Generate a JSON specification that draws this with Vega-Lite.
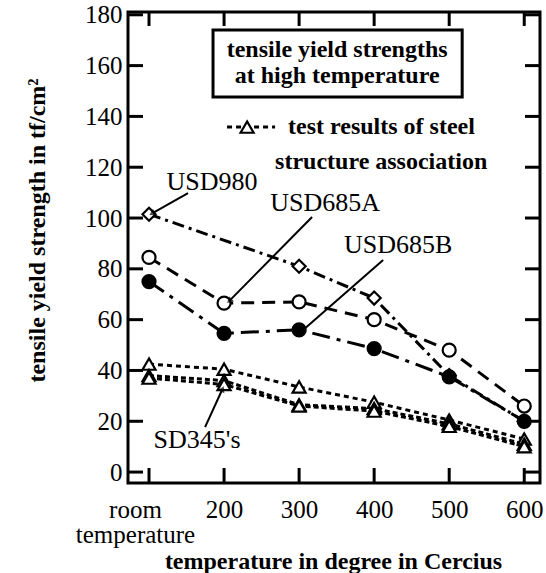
{
  "$schema": "https://vega.github.io/schema/vega-lite/v6.json",
  "autosize": "none",
  "width": 412,
  "height": 471,
  "padding": {"left": 128, "top": 12, "right": 6, "bottom": 90},
  "background": "white",
  "config": {
    "view": {"stroke": "black", "strokeWidth": 3},
    "font": "Liberation Serif",
    "axis": {
      "domain": false, "grid": false, "ticks": false,
      "labelOverlap": false, "labelFont": "Liberation Serif", "labelFontSize": 25, "labelColor": "black",
      "titleFont": "Liberation Serif", "titleFontSize": 24, "titleColor": "black", "titleFontWeight": "bold"
    }
  },
  "datasets": {
    "series": [
      {"series": "USD980", "temp": 100, "strength": 101.5},
      {"series": "USD980", "temp": 300, "strength": 81},
      {"series": "USD980", "temp": 400, "strength": 68.5},
      {"series": "USD980", "temp": 500, "strength": 38},
      {"series": "USD980", "temp": 600, "strength": 20},
      {"series": "USD685A", "temp": 100, "strength": 84.5},
      {"series": "USD685A", "temp": 200, "strength": 66.5},
      {"series": "USD685A", "temp": 300, "strength": 67},
      {"series": "USD685A", "temp": 400, "strength": 60},
      {"series": "USD685A", "temp": 500, "strength": 48},
      {"series": "USD685A", "temp": 600, "strength": 26},
      {"series": "USD685B", "temp": 100, "strength": 75},
      {"series": "USD685B", "temp": 200, "strength": 54.6},
      {"series": "USD685B", "temp": 300, "strength": 56},
      {"series": "USD685B", "temp": 400, "strength": 48.6},
      {"series": "USD685B", "temp": 500, "strength": 37.5},
      {"series": "USD685B", "temp": 600, "strength": 20},
      {"series": "association", "temp": 100, "strength": 42.5},
      {"series": "association", "temp": 200, "strength": 40.5},
      {"series": "association", "temp": 300, "strength": 33.5},
      {"series": "association", "temp": 400, "strength": 27.5},
      {"series": "association", "temp": 500, "strength": 20.5},
      {"series": "association", "temp": 600, "strength": 13},
      {"series": "SD345a", "temp": 100, "strength": 38},
      {"series": "SD345a", "temp": 200, "strength": 36},
      {"series": "SD345a", "temp": 300, "strength": 26.5},
      {"series": "SD345a", "temp": 400, "strength": 25},
      {"series": "SD345a", "temp": 500, "strength": 19},
      {"series": "SD345a", "temp": 600, "strength": 11},
      {"series": "SD345b", "temp": 100, "strength": 37},
      {"series": "SD345b", "temp": 200, "strength": 34.5},
      {"series": "SD345b", "temp": 300, "strength": 26},
      {"series": "SD345b", "temp": 400, "strength": 24},
      {"series": "SD345b", "temp": 500, "strength": 18},
      {"series": "SD345b", "temp": 600, "strength": 10}
    ],
    "xticks": [{"v": 100}, {"v": 200}, {"v": 300}, {"v": 400}, {"v": 500}, {"v": 600}],
    "yticks": [{"v": 0}, {"v": 20}, {"v": 40}, {"v": 60}, {"v": 80}, {"v": 100}, {"v": 120}, {"v": 140}, {"v": 160}, {"v": 180}],
    "labels": [
      {"text": "USD980", "temp": 184, "strength": 114.2},
      {"text": "USD685A", "temp": 334.7, "strength": 105.9},
      {"text": "USD685B", "temp": 432, "strength": 89.4},
      {"text": "SD345's", "temp": 164, "strength": 12.6}
    ],
    "arrows": [
      {"name": "USD980", "x1": 152, "y1": 109.8, "x2": 105.3, "y2": 102},
      {"name": "USD685A", "x1": 317.3, "y1": 100.4, "x2": 208, "y2": 67.7},
      {"name": "USD685B", "x1": 412, "y1": 83.5, "x2": 305.3, "y2": 55.9},
      {"name": "SD345", "x1": 174.7, "y1": 17.7, "x2": 197.3, "y2": 32.3}
    ],
    "box": [{"x1": 185.3, "x2": 517.3, "y1": 147.6, "y2": 174}],
    "boxtext": [
      {"text": "tensile yield strengths", "temp": 350.7, "strength": 166.1},
      {"text": "at high temperature", "temp": 350.7, "strength": 155.9}
    ],
    "legendline": [
      {"temp": 204, "strength": 135.8},
      {"temp": 268, "strength": 135.8}
    ],
    "legendpoint": [{"temp": 230.7, "strength": 135.8}],
    "legendtext": [
      {"text": "test results of steel", "temp": 285.3, "strength": 135.8},
      {"text": "structure association", "temp": 268, "strength": 122}
    ]
  },
  "layer": [
    {
      "data": {"name": "series"},
      "mark": {"type": "line", "strokeWidth": 3, "color": "black"},
      "encoding": {
        "x": {"field": "temp", "type": "quantitative", "scale": {"domain": [72, 621], "nice": false, "zero": false},
          "axis": {"values": [100, 200, 300, 400, 500, 600], "title": "temperature in degree in Cercius",
            "labelExpr": "datum.value == 100 ? ['room', 'temperature'] : datum.label",
            "labelOffset": {"condition": {"test": "datum.value == 100", "value": -14}, "value": 0},
            "labelPadding": 14, "labelLineHeight": 25, "titleX": 205, "titleY": 78, "titleBaseline": "middle", "titleAlign": "center"}},
        "y": {"field": "strength", "type": "quantitative", "scale": {"domain": [-4.3, 181.1], "nice": false, "zero": false},
          "axis": {"values": [0, 20, 40, 60, 80, 100, 120, 140, 160, 180], "title": "tensile yield strength in tf/cm²",
            "labelPadding": 6, "titleX": -91, "titleY": 218, "titleAngle": -90, "titleAlign": "center", "titleBaseline": "middle"}},
        "detail": {"field": "series"},
        "strokeDash": {"field": "series", "type": "nominal", "legend": null,
          "scale": {"domain": ["USD980", "USD685A", "USD685B", "association", "SD345a", "SD345b"],
            "range": [[12, 5, 3, 5], [13, 8], [18, 7, 4, 7], [5, 4], [5, 3], [5, 3]]}}
      }
    },
    {
      "data": {"name": "yticks"},
      "mark": {"type": "rule", "strokeWidth": 3, "color": "black"},
      "encoding": {"y": {"field": "v", "type": "quantitative"}, "y2": {"field": "v"}, "x": {"datum": 72, "type": "quantitative"}, "x2": {"datum": 92}}
    },
    {
      "data": {"name": "yticks"},
      "mark": {"type": "rule", "strokeWidth": 3, "color": "black"},
      "encoding": {"y": {"field": "v", "type": "quantitative"}, "y2": {"field": "v"}, "x": {"datum": 601, "type": "quantitative"}, "x2": {"datum": 621}}
    },
    {
      "data": {"name": "xticks"},
      "mark": {"type": "rule", "strokeWidth": 3, "color": "black"},
      "encoding": {"x": {"field": "v", "type": "quantitative"}, "x2": {"field": "v"}, "y": {"datum": -4.3, "type": "quantitative"}, "y2": {"datum": 1.6}}
    },
    {
      "data": {"name": "xticks"},
      "mark": {"type": "rule", "strokeWidth": 3, "color": "black"},
      "encoding": {"x": {"field": "v", "type": "quantitative"}, "x2": {"field": "v"}, "y": {"datum": 175.6, "type": "quantitative"}, "y2": {"datum": 181.1}}
    },
    {
      "data": {"name": "series"},
      "mark": {"type": "point", "filled": true, "stroke": "black", "strokeWidth": 2.2, "opacity": 1},
      "encoding": {
        "x": {"field": "temp", "type": "quantitative"},
        "y": {"field": "strength", "type": "quantitative"},
        "shape": {"field": "series", "type": "nominal", "legend": null,
          "scale": {"domain": ["USD980", "USD685A", "USD685B", "association", "SD345a", "SD345b"],
            "range": ["diamond", "circle", "circle", "triangle-up", "triangle-up", "triangle-up"]}},
        "fill": {"field": "series", "type": "nominal", "legend": null,
          "scale": {"domain": ["USD980", "USD685A", "USD685B", "association", "SD345a", "SD345b"],
            "range": ["white", "white", "black", "white", "white", "white"]}},
        "size": {"value": 170}
      }
    },
    {
      "data": {"name": "arrows"},
      "mark": {"type": "rule", "strokeWidth": 2, "color": "black"},
      "encoding": {
        "x": {"field": "x1", "type": "quantitative"},
        "y": {"field": "y1", "type": "quantitative"},
        "x2": {"field": "x2"},
        "y2": {"field": "y2"}
      }
    },
    {
      "data": {"name": "arrows"},
      "transform": [{"filter": "datum.name == 'USD980'"}],
      "mark": {"type": "point", "shape": "triangle", "filled": true, "color": "black", "size": 50, "angle": 240},
      "encoding": {"x": {"field": "x2", "type": "quantitative"}, "y": {"field": "y2", "type": "quantitative"}}
    },
    {
      "data": {"name": "arrows"},
      "transform": [{"filter": "datum.name == 'USD685A'"}],
      "mark": {"type": "point", "shape": "triangle", "filled": true, "color": "black", "size": 50, "angle": 225},
      "encoding": {"x": {"field": "x2", "type": "quantitative"}, "y": {"field": "y2", "type": "quantitative"}}
    },
    {
      "data": {"name": "arrows"},
      "transform": [{"filter": "datum.name == 'USD685B'"}],
      "mark": {"type": "point", "shape": "triangle", "filled": true, "color": "black", "size": 50, "angle": 229},
      "encoding": {"x": {"field": "x2", "type": "quantitative"}, "y": {"field": "y2", "type": "quantitative"}}
    },
    {
      "data": {"name": "arrows"},
      "transform": [{"filter": "datum.name == 'SD345'"}],
      "mark": {"type": "point", "shape": "triangle", "filled": true, "color": "black", "size": 50, "angle": 25},
      "encoding": {"x": {"field": "x2", "type": "quantitative"}, "y": {"field": "y2", "type": "quantitative"}}
    },
    {
      "data": {"name": "labels"},
      "mark": {"type": "text", "fontSize": 26, "font": "Liberation Serif", "color": "black", "align": "center", "baseline": "middle"},
      "encoding": {"x": {"field": "temp", "type": "quantitative"}, "y": {"field": "strength", "type": "quantitative"}, "text": {"field": "text"}}
    },
    {
      "data": {"name": "box"},
      "mark": {"type": "rect", "fill": "white", "stroke": "black", "strokeWidth": 3},
      "encoding": {
        "x": {"field": "x1", "type": "quantitative"}, "x2": {"field": "x2"},
        "y": {"field": "y1", "type": "quantitative"}, "y2": {"field": "y2"}
      }
    },
    {
      "data": {"name": "boxtext"},
      "mark": {"type": "text", "fontSize": 24, "fontWeight": "bold", "font": "Liberation Serif", "color": "black", "align": "center", "baseline": "middle"},
      "encoding": {"x": {"field": "temp", "type": "quantitative"}, "y": {"field": "strength", "type": "quantitative"}, "text": {"field": "text"}}
    },
    {
      "data": {"name": "legendline"},
      "mark": {"type": "line", "strokeWidth": 3, "color": "black", "strokeDash": [5, 4]},
      "encoding": {"x": {"field": "temp", "type": "quantitative"}, "y": {"field": "strength", "type": "quantitative"}}
    },
    {
      "data": {"name": "legendpoint"},
      "mark": {"type": "point", "shape": "triangle-up", "filled": true, "fill": "white", "stroke": "black", "strokeWidth": 2.2, "size": 170, "opacity": 1},
      "encoding": {"x": {"field": "temp", "type": "quantitative"}, "y": {"field": "strength", "type": "quantitative"}}
    },
    {
      "data": {"name": "legendtext"},
      "mark": {"type": "text", "fontSize": 24, "fontWeight": "bold", "font": "Liberation Serif", "color": "black", "align": "left", "baseline": "middle"},
      "encoding": {"x": {"field": "temp", "type": "quantitative"}, "y": {"field": "strength", "type": "quantitative"}, "text": {"field": "text"}}
    }
  ]
}
